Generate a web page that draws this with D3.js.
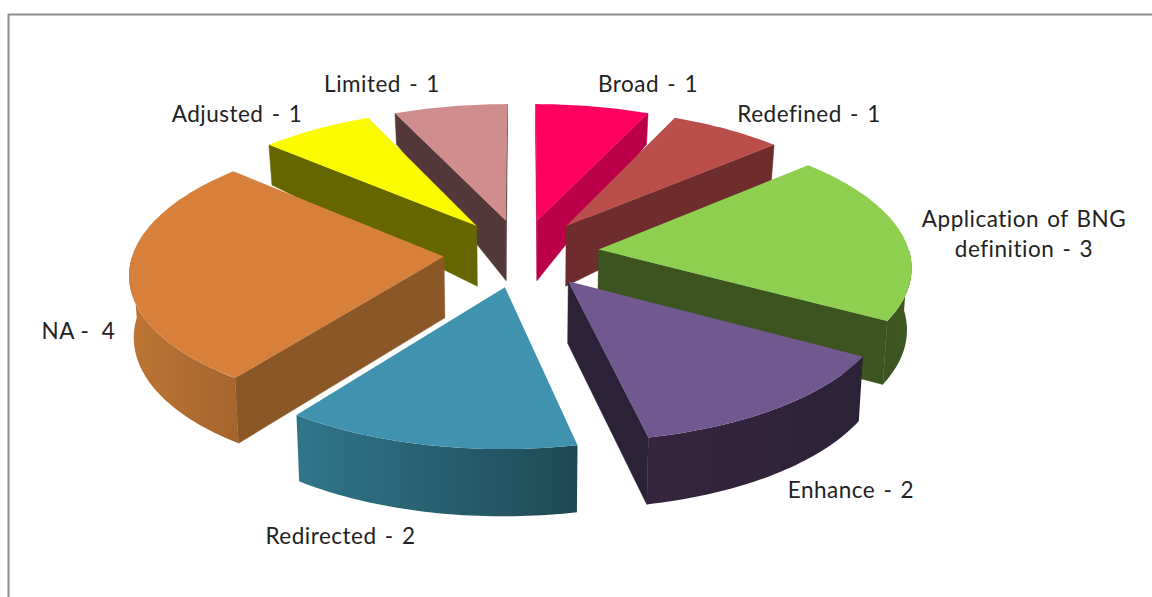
<!DOCTYPE html>
<html><head><meta charset="utf-8">
<style>html,body{margin:0;padding:0;background:#fff;overflow:hidden}svg{display:block}</style>
<script src="https://cdnjs.cloudflare.com/ajax/libs/d3/7.8.5/d3.min.js"></script>
</head><body><svg id="c" width="1152" height="597"></svg>
<script>
const categories=["Broad","Redefined","Application of BNG definition","Enhance","Redirected","NA","Adjusted","Limited"];
const values=[1,1,3,2,2,4,1,1];
const topColors=["#FF005F","#BA4E4B","#8FCF50","#71588F","#3F93AE","#D7803C","#FAFA00","#CF8D8C"];
const cutColors=["#BC0048","#6E2C2C","#3B5420","#2B2238","#2A6373","#8B5726","#666600","#523839"];
const outerFrom=["#BC0048","#6E2C2C","#3B5420","#36243E","#30768A","#BE7535","#666600","#523839"];
const outerTo=["#BC0048","#6E2C2C","#3F5A21","#2B2238","#1F4955","#A5652B","#666600","#523839"];
const labelLines=[["Broad - 1"],["Redefined - 1"],["Application of BNG","definition - 3"],["Enhance - 2"],["Redirected - 2"],["NA -  4"],["Adjusted - 1"],["Limited - 1"]];
const labelAt=[[648,92],[809,122],[1024,227],[851,498],[340.5,544],[78.5,339],[237,122],[382,92]];
const labelGap=[2,2,2,2,2,0,2,2];

const svg=d3.select("#c");
svg.append("rect").attr("x",8.5).attr("y",14.5).attr("width",1150).attr("height",600).attr("fill","#fff").attr("stroke","#8c8c8c").attr("stroke-width",2);
const defs=svg.append("defs");

const cx=521.5,cy=253,RX=311,RY=136,K=0.11,EX=0.25;
const pie=d3.pie().sort(null).value(d=>d)(values);
const depth=d3.scaleLinear().domain([-1,-0.24,1.2]).range([36,60,67]);
function ground(m,th,r){const d=EX;return [d*Math.sin(m)+r*Math.sin(th),-d*Math.cos(m)-r*Math.cos(th)];}
function proj(g){const s=1/(1-K*g[1]);return [cx+g[0]*s*RX,cy+g[1]*s*RY];}
function low(g){const p=proj(g);return [cx+(p[0]-cx)*0.988,p[1]+depth(g[1])];}
const line=d3.line();
function arcPts(m,a,b,f){const n=Math.max(2,Math.ceil((b-a)/0.02));return d3.range(n+1).map(i=>f(ground(m,a+(b-a)*i/n,1)));}

const order=pie.map((p,i)=>({p,i,m:(p.startAngle+p.endAngle)/2})).sort((u,v)=>(-Math.cos(u.m))-(-Math.cos(v.m)));
order.forEach(({p,i,m})=>{
  const g=svg.append("g").attr("class","slice");
  const apexG=ground(m,0,0);
  const a=p.startAngle,b=p.endAngle;
  const apex=proj(apexG);
  const bodyPt=proj(ground(m,m,0.6));
  [a,b].forEach(th=>{
    const cg=ground(m,th,1),c=proj(cg);
    const e=[c[0]-apex[0],c[1]-apex[1]],bv=[bodyPt[0]-apex[0],bodyPt[1]-apex[1]];
    const crossBody=e[0]*bv[1]-e[1]*bv[0],crossDown=e[0];
    if(crossBody*crossDown<0){
      g.append("path").attr("d",line([apex,c,low(cg),low(apexG)])+"Z").attr("fill",cutColors[i]).attr("stroke",cutColors[i]).attr("stroke-width",0.5);
    }
  });
  const fa=Math.max(a,Math.PI/2),fb=Math.min(b,Math.PI*1.5);
  if(fb>fa){
    const up=arcPts(m,fa,fb,proj),dn=arcPts(m,fa,fb,low).reverse();
    const id="o"+i,xs=up.map(d=>d[0]);
    defs.append("linearGradient").attr("id",id).attr("gradientUnits","userSpaceOnUse")
      .attr("x1",d3.min(xs)).attr("x2",d3.max(xs)).attr("y1",0).attr("y2",0)
      .selectAll("stop").data([[0,outerFrom[i]],[1,outerTo[i]]]).join("stop")
      .attr("offset",d=>d[0]).attr("stop-color",d=>d[1]);
    g.append("path").attr("d",line(up.concat(dn))+"Z").attr("fill","url(#"+id+")");
  }
  g.append("path").attr("d",line([apex].concat(arcPts(m,a,b,proj)))+"Z").attr("fill",topColors[i]);
});

labelLines.forEach((ls,i)=>{
  const t=svg.append("text").attr("text-anchor","middle").attr("font-family","Lato,sans-serif").attr("font-size",22.5).attr("letter-spacing",0.5).attr("fill","#222").attr("word-spacing",labelGap[i]).style("white-space","pre");
  ls.forEach((s,j)=>t.append("tspan").attr("x",labelAt[i][0]).attr("y",labelAt[i][1]+j*30).text(s));
});
</script></body></html>
